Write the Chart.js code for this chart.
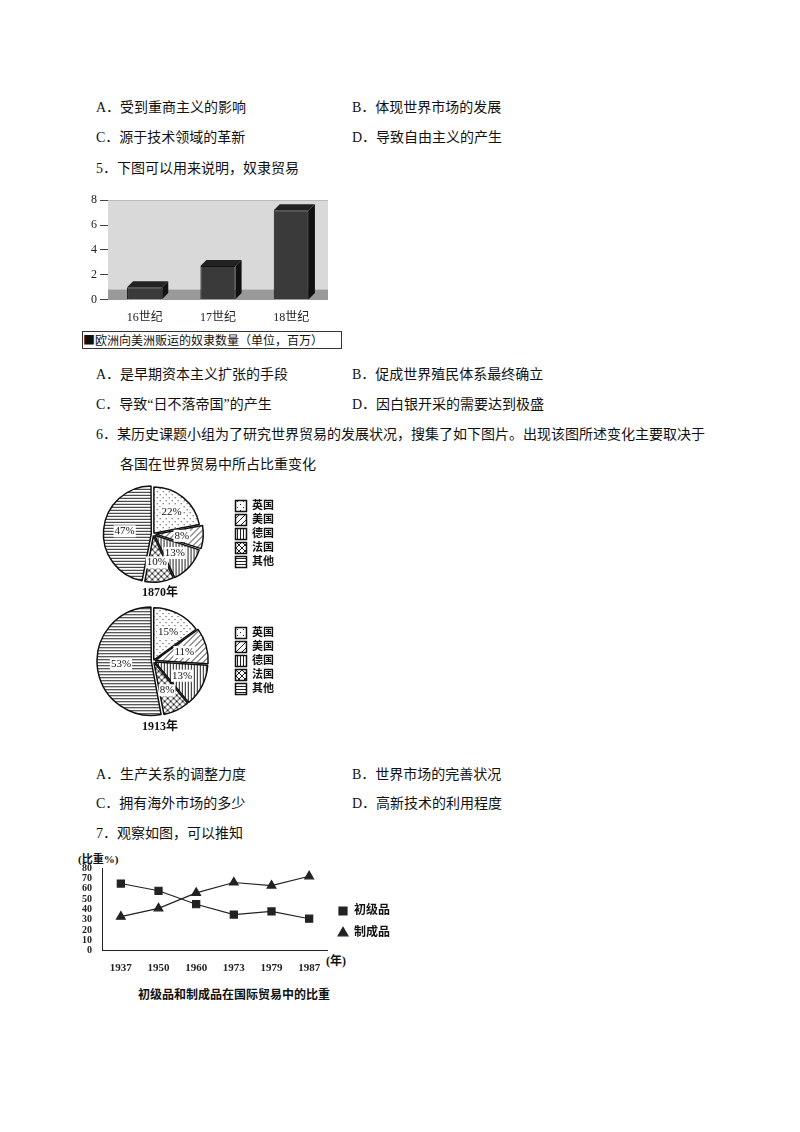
<!DOCTYPE html>
<html><head><meta charset="utf-8">
<script src="https://cdn.jsdelivr.net/npm/chart.js@4"></script>
<style>
body{margin:0;background:#fff;font-family:"Liberation Serif","Noto Sans CJK SC",serif;color:#111;}
.page{position:relative;width:800px;height:1132px;}
.t{position:absolute;font-size:14px;white-space:nowrap;}
.box{position:absolute;}
</style></head><body><div class="page">
<div class="t" style="left:96px;top:96px">A．受到重商主义的影响</div>
<div class="t" style="left:352px;top:96px">B．体现世界市场的发展</div>
<div class="t" style="left:96px;top:126px">C．源于技术领域的革新</div>
<div class="t" style="left:352px;top:126px">D．导致自由主义的产生</div>
<div class="t" style="left:96px;top:157px">5．下图可以用来说明，奴隶贸易</div>
<div class="box" style="left:88px;top:190px;width:240px;height:138px"><canvas id="bar"></canvas></div>
<div class="t" style="left:82px;top:331px;width:258px;height:16px;border:1px solid #333;font-size:12px;line-height:16px;font-family:'Noto Sans CJK SC'">■欧洲向美洲贩运的奴隶数量（单位，百万）</div>
<div class="t" style="left:96px;top:363px">A．是早期资本主义扩张的手段</div>
<div class="t" style="left:352px;top:363px">B．促成世界殖民体系最终确立</div>
<div class="t" style="left:96px;top:393px">C．导致“日不落帝国”的产生</div>
<div class="t" style="left:352px;top:393px">D．因白银开采的需要达到极盛</div>
<div class="t" style="left:96px;top:423px">6．某历史课题小组为了研究世界贸易的发展状况，搜集了如下图片。出现该图所述变化主要取决于</div>
<div class="t" style="left:120px;top:453px">各国在世界贸易中所占比重变化</div>
<div class="box" style="left:74px;top:482px;width:210px;height:104px"><canvas id="p1"></canvas></div>
<div class="t" style="left:142px;top:582px;font-size:12px;font-weight:bold">1870年</div>
<div class="box" style="left:74px;top:604px;width:210px;height:114px"><canvas id="p2"></canvas></div>
<div class="t" style="left:142px;top:716px;font-size:12px;font-weight:bold">1913年</div>
<div class="t" style="left:96px;top:763px">A．生产关系的调整力度</div>
<div class="t" style="left:352px;top:763px">B．世界市场的完善状况</div>
<div class="t" style="left:96px;top:792px">C．拥有海外市场的多少</div>
<div class="t" style="left:352px;top:792px">D．高新技术的利用程度</div>
<div class="t" style="left:96px;top:822px">7．观察如图，可以推知</div>
<div class="t" style="left:78px;top:850px;font-size:11px;font-weight:bold">(比重%)</div>
<div class="t" style="left:326px;top:951px;font-size:12px;font-weight:bold">(年)</div>
<div class="box" style="left:80px;top:860px;width:320px;height:118px"><canvas id="ln"></canvas></div>
<div class="t" style="left:138px;top:985px;font-size:12px;font-weight:bold">初级品和制成品在国际贸易中的比重</div>
</div>
<script>
const barCats=["16世纪","17世纪","18世纪"];
const barVals=[1.0,2.7,7.2];
const barTicks=[0,2,4,6,8];
const pieCats=["英国","美国","德国","法国","其他"];
const pie1870=[22,8,13,10,47];
const pie1913=[15,11,13,8,53];
const lineYears=["1937","1950","1960","1973","1979","1987"];
const primaryVals=[65,58,45,35,38,31];
const manufVals=[33,41,56,66,63,72];
const yTicks=[0,10,20,30,40,50,60,70,80];

Chart.defaults.animation=false;
Chart.defaults.font.family="'Liberation Serif','Noto Sans CJK SC',serif";
Chart.defaults.color="#222";

const bg={id:'bg',beforeDatasetsDraw(c){const a=c.chartArea,x=c.ctx;x.save();x.fillStyle='#d9d9d9';x.fillRect(a.left,a.top,a.width,a.height);x.fillStyle='#9a9a9a';x.fillRect(a.left,a.bottom-10,a.width,10);x.restore();},
 afterDatasetsDraw(c){const x=c.ctx;x.save();c.getDatasetMeta(0).data.forEach(b=>{const w=b.width,l=b.x-w/2,r=b.x+w/2,d=6;x.fillStyle='#111';x.beginPath();x.moveTo(r,b.y);x.lineTo(r+d,b.y-d);x.lineTo(r+d,b.base-d);x.lineTo(r,b.base);x.fill();x.fillStyle='#222';x.beginPath();x.moveTo(l,b.y);x.lineTo(l+d,b.y-d);x.lineTo(r+d,b.y-d);x.lineTo(r,b.y);x.fill();});x.restore();}};
new Chart(document.getElementById('bar'),{type:'bar',data:{labels:barCats,datasets:[{data:barVals,backgroundColor:'#3a3a3a',borderColor:'#111',borderWidth:1,barPercentage:0.6}]},
options:{responsive:true,maintainAspectRatio:false,plugins:{legend:{display:false}},
scales:{y:{min:0,max:8,afterBuildTicks:a=>{a.ticks=barTicks.map(v=>({value:v}))},grid:{color:'#444'},border:{color:'#444'},ticks:{font:{size:12},autoSkip:false}},x:{grid:{display:false},ticks:{font:{size:12}}}}},plugins:[bg]});

function pat(kind){const c=document.createElement('canvas');c.width=c.height=6;const x=c.getContext('2d');x.fillStyle='#fff';x.fillRect(0,0,6,6);x.strokeStyle='#222';x.fillStyle='#222';x.lineWidth=1;
 if(kind==0){x.fillRect(1,1,1,1);x.fillRect(4,4,1,1);}
 else if(kind==1){x.beginPath();x.moveTo(0,6);x.lineTo(6,0);x.stroke();}
 else if(kind==2){x.fillRect(1,0,1,6);x.fillRect(4,0,1,6);}
 else if(kind==3){x.beginPath();x.moveTo(0,6);x.lineTo(6,0);x.moveTo(0,0);x.lineTo(6,6);x.stroke();}
 else {x.fillRect(0,1,6,1);x.fillRect(0,4,6,1);}
 return x.createPattern(c,'repeat');}
const pats=[0,1,2,3,4].map(pat);
const labelPlug={id:'lbl',afterDatasetsDraw(c){const x=c.ctx;x.save();x.font="11px 'Liberation Serif'";x.textAlign='center';x.textBaseline='middle';
 c.getDatasetMeta(0).data.forEach((a,i)=>{const m=(a.startAngle+a.endAngle)/2,r=a.outerRadius*0.62;const t=c.data.datasets[0].data[i]+'%';const px=a.x+Math.cos(m)*r,py=a.y+Math.sin(m)*r;x.fillStyle='#fff';const w=x.measureText(t).width;x.fillRect(px-w/2-1,py-6,w+2,12);x.fillStyle='#111';x.fillText(t,px,py);});x.restore();}};
function pie(id,vals,offs){new Chart(document.getElementById(id),{type:'pie',data:{labels:pieCats,datasets:[{data:vals,backgroundColor:pats,borderColor:'#111',borderWidth:1.5,offset:offs}]},
options:{responsive:true,maintainAspectRatio:false,layout:{padding:0},plugins:{tooltip:{enabled:false},legend:{position:'right',align:'center',labels:{boxWidth:11,boxHeight:11,padding:3,font:{size:11,weight:'bold'},color:'#111'}}}},plugins:[labelPlug]});}
pie('p1',pie1870,[4,10,8,6,8]);
pie('p2',pie1913,[4,8,8,6,8]);

new Chart(document.getElementById('ln'),{type:'line',data:{labels:lineYears,datasets:[
{label:'初级品',data:primaryVals,borderColor:'#222',backgroundColor:'#222',pointStyle:'rect',pointRadius:5,borderWidth:1.2},
{label:'制成品',data:manufVals,borderColor:'#222',backgroundColor:'#222',pointStyle:'triangle',pointRadius:5,borderWidth:1.2}]},
options:{responsive:true,maintainAspectRatio:false,layout:{padding:{top:6,right:0}},plugins:{legend:{position:'right',labels:{usePointStyle:true,boxWidth:10,boxHeight:8,padding:10,font:{size:12,weight:'bold'},color:'#111'}}},
scales:{y:{min:0,max:80,afterBuildTicks:a=>{a.ticks=yTicks.map(v=>({value:v}))},grid:{display:false},border:{color:'#222'},ticks:{autoSkip:false,font:{size:10,weight:'bold'},padding:2}},
x:{offset:true,grid:{display:false},border:{color:'#222'},ticks:{font:{size:11,weight:'bold'}}}}}});
</script></body></html>
